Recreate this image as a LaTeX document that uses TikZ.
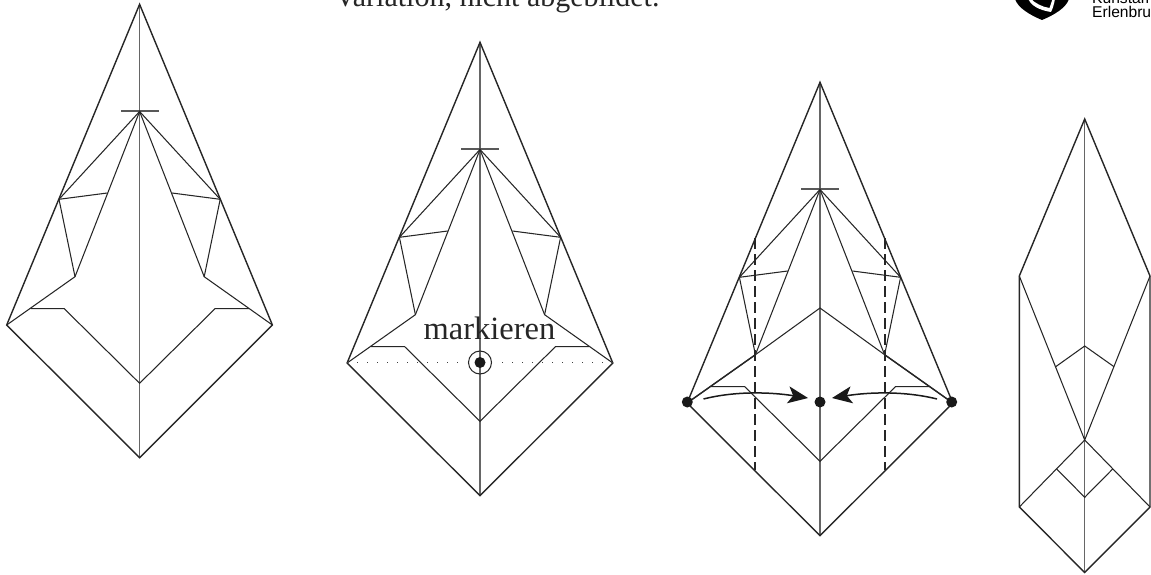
\documentclass[tikz,border=0pt]{standalone}
\usepackage{fontspec}
\setmainfont{Liberation Serif}
\newfontfamily\logofont{Liberation Sans}
\usetikzlibrary{arrows.meta}
\tikzset{
  outer/.style={line width=1.4pt,color=black!85,line join=miter},
  inner/.style={line width=1.05pt,color=black!85,line join=miter},
  tickl/.style={line width=1.05pt,color=black!65},
  axis/.style={line width=1.4pt,color=black!60},
  foldd/.style={line width=1.9pt,color=black!85,dash pattern=on 11pt off 5pt},
  dotl/.style={line width=1.6pt,color=black!75,dash pattern=on 1.4pt off 8.6pt},
  swing/.style={line width=1.5pt,color=black!90,-{Stealth[length=20pt,width=17pt,inset=5pt]}},
  dotn/.style={circle,fill=black!90,inner sep=0pt,minimum size=11pt},
  lbl/.style={inner sep=0pt,text=black!85,anchor=base},
}
\newcommand{\kitebase}{%
  \draw[axis] (139.6,4.3) -- (139.6,457.7);
  \draw[outer] (139.6,4.3) -- (6.7,325) -- (139.6,457.7) -- (272.4,325) -- cycle;
  \draw[tickl] (121,111) -- (158.7,111);
  \draw[inner] (6.7,325) -- (75,276.7) -- (59,199.3) -- (139.6,111.5) -- (220.2,199.3) -- (204.2,276.7) -- (272.4,325);
  \draw[inner] (75,276.7) -- (139.6,111.5) -- (204.2,276.7);
  \draw[inner] (59,199.3) -- (107.3,193);
  \draw[inner] (220.2,199.3) -- (172,193);
  \draw[inner] (30.7,308.7) -- (64.3,308.7) -- (139.6,383.3) -- (215,308.7) -- (249,308.7);
}
\begin{document}
\begin{tikzpicture}[x=1pt,y=-1pt]
\useasboundingbox (0,0) rectangle (1151,575);
\clip (0,0) rectangle (1151,575);
\fill[white] (0,0) rectangle (1151,575);
% caption
\node[lbl,font=\fontsize{30}{30}\selectfont] (cap) at (497,7) {Variation, nicht abgebildet.};
% logo
\fill[black] (1015,-1) .. controls (1018,8) and (1030,15) .. (1042,20) .. controls (1054,15) and (1066,8) .. (1069,-1) -- cycle;
\fill[white] (1028,-1) .. controls (1031,5) and (1038,10) .. (1051,12) .. controls (1053,8) and (1054,4) .. (1055,-1) -- (1052.5,-1) .. controls (1051.5,2) and (1050.5,5) .. (1049.5,8) .. controls (1042,7) and (1035,3) .. (1031,-1) -- cycle;
\node[lbl,anchor=base west,text=black,font=\logofont\fontsize{15.6}{15.6}\selectfont] (l1) at (1092,3.5) {Kunstamt};
\node[lbl,anchor=base west,text=black,font=\logofont\fontsize{15.6}{15.6}\selectfont] (l2) at (1092,17.5) {Erlenbrunn};
% figure 1
\begin{scope}\kitebase\end{scope}
% figure 2
\begin{scope}[shift={(340.4,38)}]\kitebase\end{scope}
\draw[dotl] (347,362.5) -- (466,362.5);
\draw[dotl] (613,362.5) -- (494,362.5);
\node[circle,draw=black!85,line width=1pt,fill=none,minimum size=23pt,inner sep=0pt] (ring) at (480,362.5) {};
\node[dotn] (mark) at (480,362.5) {};
\node[lbl,font=\fontsize{32.5}{32.5}\selectfont] (mk) at (489.5,339.3) {markieren};
% figure 3
\begin{scope}[shift={(680.4,78)}]\kitebase
\draw[inner] (75,276.7) -- (139.6,230) -- (204.2,276.7);
\draw[outer] (6.7,325) -- (75,276.7);
\draw[outer] (204.2,276.7) -- (272.4,325);
\end{scope}
\coordinate (du1) at (755.3,238);
\coordinate (dl1) at (755.3,470);
\coordinate (du2) at (885.3,238);
\coordinate (dl2) at (885.3,470);
\draw[foldd] (du1) -- (dl1);
\draw[foldd] (du2) -- (dl2);
\node[dotn] (pl) at (687.3,402) {};
\node[dotn] (pc) at (820,402) {};
\node[dotn] (pr) at (951.7,402) {};
\coordinate (al) at (703.5,399);
\coordinate (ar) at (937,399);
\draw[swing] (al) .. controls (735,391) and (770,392) .. (808,398);
\draw[swing] (ar) .. controls (905,391) and (870,392) .. (832,398);
% figure 4
\draw[axis] (1084.7,119) -- (1084.7,572.5);
\draw[outer] (1084.7,119) -- (1019.3,276) -- (1019.3,507) -- (1084.7,572.5) -- (1150,507) -- (1150,276) -- cycle;
\draw[inner] (1019.3,276) -- (1084.7,440) -- (1150,276);
\draw[inner] (1019.3,507) -- (1084.7,440) -- (1150,507);
\draw[inner] (1055.7,366.7) -- (1084.7,346) -- (1114,366.7);
\draw[inner] (1056.7,469) -- (1084.7,497.3) -- (1112.7,469);
\end{tikzpicture}
\end{document}
